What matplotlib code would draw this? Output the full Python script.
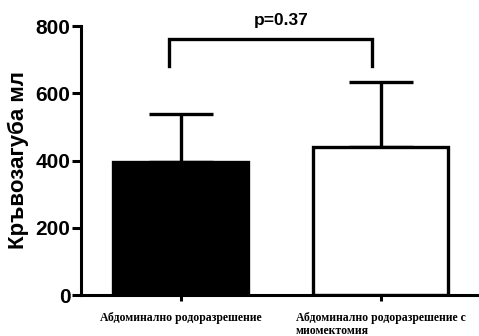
import matplotlib
matplotlib.use("Agg")
import matplotlib.pyplot as plt

# Blood loss per delivery group
categories = ["Абдоминално родоразрешение", "Абдоминално родоразрешение с\nмиомектомия"]
means = [395, 440]
sd_upper = [143, 192]
p_text = "p=0.37"
y_ticks = [0, 200, 400, 600, 800]
bar_faces = ["black", "white"]

fig = plt.figure(figsize=(4.79, 3.36), dpi=100)
ax = fig.add_axes([0.169, 0.122, 0.835, 0.8006])

x = list(range(len(categories)))
ax.bar(x, means, width=0.675, color=bar_faces, edgecolor="black", linewidth=2.4, zorder=2)
ax.errorbar(x, means, yerr=[[0] * len(means), sd_upper], fmt="none", ecolor="black",
            elinewidth=2.4, capsize=23, capthick=2.4, zorder=1)

# significance bracket
yb_top, yb_low = 760, 680
ax.plot([-0.06, -0.06, 0.955, 0.955], [yb_low, yb_top, yb_top, yb_low], color="black",
        lw=2.4, solid_joinstyle="miter", clip_on=False)
ax.text(0.5, 816, p_text, ha="center", va="center", fontsize=12.5, fontweight="bold",
        family="Liberation Sans")

ax.set_xlim(-0.5, 1.5)
ax.set_ylim(0, 800)
ax.set_yticks(y_ticks)
ax.set_xticks(x)
ax.set_xticklabels(categories, family="Liberation Serif", fontweight="bold", fontsize=8.5,
                   multialignment="left", linespacing=1.1)
for lab in ax.get_yticklabels():
    lab.set_family("Liberation Sans")
    lab.set_fontweight("bold")
    lab.set_fontsize(15)
ax.tick_params(axis="y", length=6.5, width=2.2, pad=1)
ax.tick_params(axis="x", length=4, width=2.2, pad=8)

for s in ["top", "right"]:
    ax.spines[s].set_visible(False)
for s in ["left", "bottom"]:
    ax.spines[s].set_linewidth(2.2)

fig.text(18 / 479, 0.524, "Кръвозагуба мл", rotation=90, ha="center", va="center",
         fontsize=16, fontweight="bold", family="Liberation Sans")

fig.savefig("out.png", dpi=100)
